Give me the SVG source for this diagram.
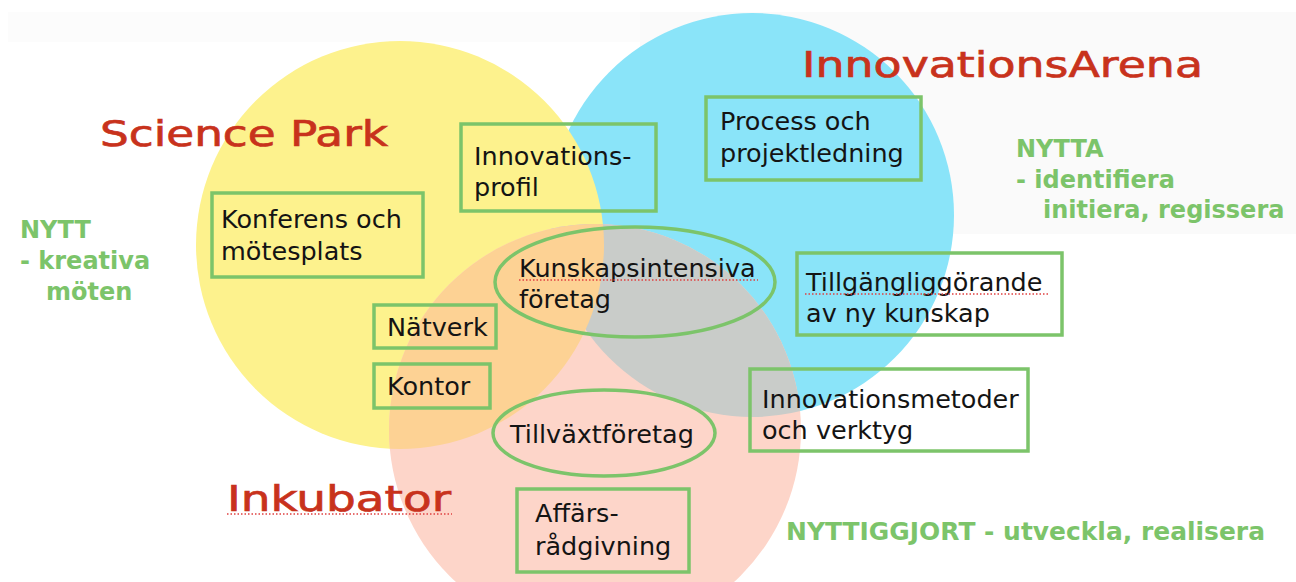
<svg xmlns="http://www.w3.org/2000/svg" width="1296" height="582" viewBox="0 0 1296 582">
  <defs>
    <clipPath id="clipBlue"><circle cx="752" cy="215" r="202"/></clipPath>
    <clipPath id="clipYellow"><circle cx="400" cy="245" r="204"/></clipPath>
    <style>
      .box { fill: none; stroke: #7cc46a; stroke-width: 3.5; }
      .oval { fill: none; stroke: #7cc46a; stroke-width: 3.5; }
      .lbl { font-family: "DejaVu Sans", "Liberation Sans", sans-serif; font-size: 25.5px; fill: #141414; }
      .note { font-family: "DejaVu Sans", "Liberation Sans", sans-serif; font-size: 24px; font-weight: bold; fill: #7cc46a; }
      .title { font-family: "DejaVu Sans", "Liberation Sans", sans-serif; font-size: 36px; fill: #c8321c; stroke: #c8321c; stroke-width: 0.7; }
      .squig { stroke: #e04040; stroke-width: 1.5; stroke-dasharray: 1.5 2; fill: none; }
    </style>
  </defs>
  <rect x="0" y="0" width="1296" height="582" fill="#ffffff"/>
  <rect x="8" y="12" width="640" height="30" fill="#fcfcfc"/>
  <rect x="640" y="12" width="656" height="222" fill="#fafafa"/>

  <g id="venn">
    <circle cx="752" cy="215" r="202" fill="#8ae4f9"/>
    <circle cx="400" cy="245" r="204" fill="#fdf28d"/>
    <circle cx="595" cy="430" r="206" fill="#fdd5c9"/>
    <circle cx="595" cy="430" r="206" fill="#c9ccc9" clip-path="url(#clipBlue)"/>
    <circle cx="595" cy="430" r="206" fill="#fdd294" clip-path="url(#clipYellow)"/>
  </g>

  <g id="titles">
    <text class="title" x="100" y="146" textLength="288" lengthAdjust="spacingAndGlyphs">Science Park</text>
    <text class="title" x="802" y="77" textLength="401" lengthAdjust="spacingAndGlyphs">InnovationsArena</text>
    <text class="title" x="227" y="511" textLength="224" lengthAdjust="spacingAndGlyphs">Inkubator</text>
    <line class="squig" x1="227" y1="514" x2="452" y2="514"/>
  </g>

  <g id="notes">
    <text class="note" x="20" y="238">NYTT</text>
    <text class="note" x="20" y="269">- kreativa</text>
    <text class="note" x="46" y="300">möten</text>
    <text class="note" x="1016" y="157">NYTTA</text>
    <text class="note" x="1016" y="188">- identifiera</text>
    <text class="note" x="1043" y="218">initiera, regissera</text>
    <text class="note" x="786" y="540" textLength="479" lengthAdjust="spacingAndGlyphs">NYTTIGGJORT - utveckla, realisera</text>
  </g>

  <g id="connectors"></g>

  <g id="node-innovationsprofil">
    <rect class="box" x="461" y="124" width="195" height="87"/>
    <text class="lbl" x="474" y="165">Innovations-</text>
    <text class="lbl" x="474" y="196">profil</text>
  </g>
  <g id="node-process">
    <rect class="box" x="706" y="97" width="215" height="83"/>
    <text class="lbl" x="720" y="130">Process och</text>
    <text class="lbl" x="720" y="162">projektledning</text>
  </g>
  <g id="node-konferens">
    <rect class="box" x="212" y="193" width="211" height="84"/>
    <text class="lbl" x="221" y="228">Konferens och</text>
    <text class="lbl" x="221" y="260">mötesplats</text>
  </g>
  <g id="node-natverk">
    <rect class="box" x="374" y="305" width="122" height="43"/>
    <text class="lbl" x="387" y="336">Nätverk</text>
  </g>
  <g id="node-kontor">
    <rect class="box" x="374" y="364" width="116" height="44"/>
    <text class="lbl" x="387" y="395">Kontor</text>
  </g>
  <g id="node-kunskapsintensiva">
    <ellipse class="oval" cx="635" cy="282" rx="140" ry="55"/>
    <text class="lbl" x="519" y="277">Kunskapsintensiva</text>
    <text class="lbl" x="519" y="308">företag</text>
    <line class="squig" x1="519" y1="280" x2="758" y2="280"/>
  </g>
  <g id="node-tillganglig">
    <rect class="box" x="797" y="253" width="265" height="82"/>
    <text class="lbl" x="806" y="291">Tillgängliggörande</text>
    <text class="lbl" x="806" y="322">av ny kunskap</text>
    <line class="squig" x1="805" y1="294" x2="1050" y2="294"/>
  </g>
  <g id="node-innovationsmetoder">
    <rect class="box" x="750" y="369" width="278" height="82"/>
    <text class="lbl" x="762" y="408">Innovationsmetoder</text>
    <text class="lbl" x="762" y="439">och verktyg</text>
  </g>
  <g id="node-tillvaxt">
    <ellipse class="oval" cx="604" cy="433" rx="111" ry="43"/>
    <text class="lbl" x="510" y="443">Tillväxtföretag</text>
  </g>
  <g id="node-affars">
    <rect class="box" x="517" y="489" width="172" height="83"/>
    <text class="lbl" x="535" y="522">Affärs-</text>
    <text class="lbl" x="535" y="555">rådgivning</text>
  </g>
</svg>
